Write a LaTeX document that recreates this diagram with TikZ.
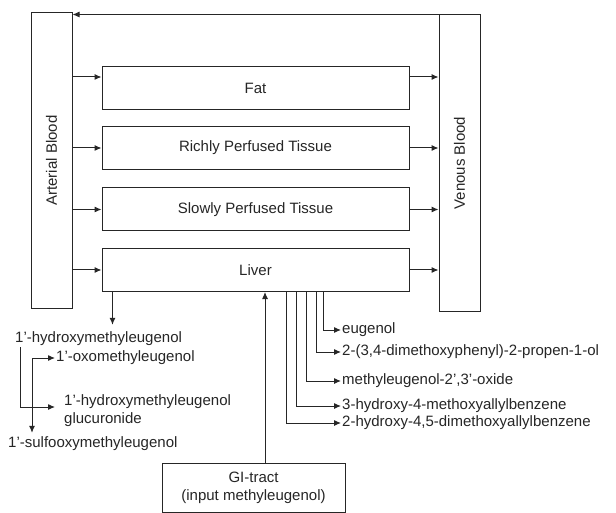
\documentclass[tikz,border=0pt]{standalone}
\usepackage{fontspec}
\setmainfont{Liberation Sans}
\usetikzlibrary{arrows.meta}
\usetikzlibrary{positioning}

\begin{document}
\begin{tikzpicture}[x=1pt,y=-1pt,
    font=\fontsize{15}{18}\selectfont,
    every node/.style={text=black!85},
    box/.style={draw=black!85,line width=1pt,inner sep=0pt},
    organ/.style={box,minimum width=307pt,minimum height=43pt},
    blood/.style={box,minimum width=41pt},
    meta/.style={anchor=west,inner sep=1pt},
    flow/.style={draw=black!85,line width=1pt,-{Latex[length=7pt,width=6pt]}}]
  \useasboundingbox[fill=white] (0,0) rectangle (616,513);

  \node[blood,minimum height=295pt] (art) at (51.5,160.5) {\rotatebox{90}{Arterial Blood}};
  \node[blood,minimum height=296pt] (ven) at (459.5,163) {\rotatebox{90}{Venous Blood}};

  \node[organ] (fat)   at (255.5,88)  {Fat};
  \node[organ] (rich)  at (255.5,148) {Richly Perfused Tissue};
  \node[organ] (slow)  at (255.5,209.5) {Slowly Perfused Tissue};
  \node[organ] (liver) at (255.5,270) {Liver};

  \node[box,minimum width=183pt,minimum height=49pt,align=center] (gi) at (253.5,487.5)
    {GI-tract\\(input methyleugenol)};

  \node[meta] (hyd)  at (14,339) {1'-hydroxymethyleugenol};
  \node[meta] (oxo)  at (55,358) {1'-oxomethyleugenol};
  \node[meta,align=left] (gluc) at (63,411) {1'-hydroxymethyleugenol\\glucuronide};
  \node[meta] (sulf) at (7,444) {1'-sulfooxymethyleugenol};

  \node[meta] (eug)  at (341,330) {eugenol};
  \node[meta] (prop) at (341,352) {2-(3,4-dimethoxyphenyl)-2-propen-1-ol};
  \node[meta] (oxi)  at (341,381) {methyleugenol-2',3'-oxide};
  \node[meta] (mhb)  at (341,406) {3-hydroxy-4-methoxyallylbenzene};
  \node[meta] (dhb)  at (341,423) {2-hydroxy-4,5-dimethoxyallylbenzene};

  % circulation
  \draw[flow] (ven.north west) -- (art.east |- ven.north west);
  \coordinate (fatin) at ([yshift=11pt]fat.west);
  \coordinate (fatout) at ([yshift=11pt]fat.east);
  \draw[flow] (art.east |- fatin) -- (fatin);
  \draw[flow] (fatout) -- (ven.west |- fatout);
  \foreach \org in {rich,slow,liver}{
    \draw[flow] (art.east |- \org.west) -- (\org.west);
    \draw[flow] (\org.east) -- (ven.west |- \org.east);
  }

  % uptake and metabolism
  \coordinate (gin) at ([xshift=11.5pt]gi.north);
  \draw[flow] (gin) -- (gin |- liver.south);

  \coordinate (lout) at ([xshift=11pt]liver.south west);
  \draw[flow] (lout) -- ([yshift=6pt]lout |- hyd.north);
  \coordinate (jn) at (32,407);
  \draw[draw=black!85,line width=1pt] ([xshift=6pt]hyd.south west) -- ([xshift=6pt]hyd.south west |- jn) -- (jn);
  \draw[flow] (jn) |- (oxo.west);
  \draw[flow,shorten >=8pt] (jn) -- (gluc.west |- jn);
  \draw[flow] (jn) -- ([yshift=3pt]jn |- sulf.north);

  \draw[flow] ([xshift=222pt]liver.south west) |- (eug.west);
  \draw[flow] ([xshift=215pt]liver.south west) |- (prop.west);
  \draw[flow] ([xshift=205pt]liver.south west) |- (oxi.west);
  \draw[flow] ([xshift=195pt]liver.south west) |- (mhb.west);
  \draw[flow] ([xshift=185pt]liver.south west) |- (dhb.west);
\end{tikzpicture}
\end{document}
